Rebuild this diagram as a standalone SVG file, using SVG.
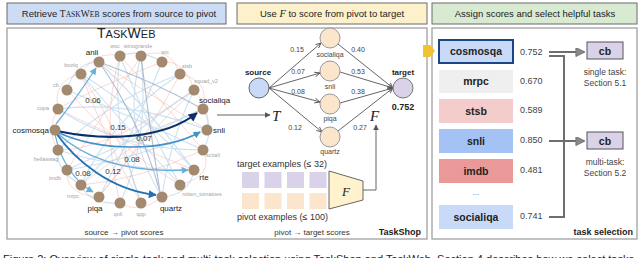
<svg xmlns="http://www.w3.org/2000/svg" width="640" height="258" viewBox="0 0 640 258">
<style>
text{font-family:"Liberation Sans",Arial,sans-serif}
.hdr{stroke:#6b6b6b;stroke-width:1}
.htxt{font-size:9.5px;fill:#222;text-anchor:middle}
.panel{fill:#fff;stroke:#a0a0a0;stroke-width:1.3}
.wn{fill:#a38a6f}
.wl{font-size:8px;fill:#222}
.ws{font-size:5.5px;fill:#a3a3a3;text-anchor:middle}
.fb{fill:none;stroke:#9cc5e4;stroke-width:1.1;opacity:.5}
.fr{fill:none;stroke:#f2aaa4;stroke-width:1;opacity:.45}
.fg{fill:none;stroke:#8198b3;stroke-width:1.2;opacity:.6}
.el{font-size:8px;fill:#333;text-anchor:middle}
.se{fill:none;stroke:#555;stroke-width:.9}
.sl{font-size:7px;fill:#444;text-anchor:middle}
.pv{fill:#fce5cd;stroke:#999;stroke-width:1}
.cap{font-size:8px;fill:#333}
.tb{font-size:10.5px;font-weight:bold;fill:#222;text-anchor:middle}
.sc{font-size:9px;fill:#444}
.ra{fill:none;stroke:#6e6e6e;stroke-width:2}
.it{font-family:"Liberation Serif","Times New Roman",serif;font-style:italic}
</style>
<defs>
<marker id="mNavy" viewBox="0 0 10 10" refX="9" refY="5" markerUnits="userSpaceOnUse" markerWidth="10" markerHeight="9" orient="auto"><path d="M0,0L10,5L0,10z" fill="#08306b"/></marker>
<marker id="mB2" viewBox="0 0 10 10" refX="9" refY="5" markerUnits="userSpaceOnUse" markerWidth="9" markerHeight="8" orient="auto"><path d="M0,0L10,5L0,10z" fill="#2171b5"/></marker>
<marker id="mB3" viewBox="0 0 10 10" refX="9" refY="5" markerUnits="userSpaceOnUse" markerWidth="8" markerHeight="7" orient="auto"><path d="M0,0L10,5L0,10z" fill="#4292c6"/></marker>
<marker id="mB4" viewBox="0 0 10 10" refX="9" refY="5" markerUnits="userSpaceOnUse" markerWidth="8" markerHeight="7" orient="auto"><path d="M0,0L10,5L0,10z" fill="#6baed6"/></marker>
<marker id="mG" viewBox="0 0 10 10" refX="9" refY="5" markerUnits="userSpaceOnUse" markerWidth="6" markerHeight="6" orient="auto"><path d="M0,1L9,5L0,9" fill="none" stroke="#555" stroke-width="1.5"/></marker>
<marker id="mGF" viewBox="0 0 10 10" refX="9" refY="5" markerUnits="userSpaceOnUse" markerWidth="6" markerHeight="6" orient="auto"><path d="M0,0L10,5L0,10z" fill="#555"/></marker>
<marker id="mR" viewBox="0 0 10 10" refX="9" refY="5" markerUnits="userSpaceOnUse" markerWidth="11" markerHeight="9" orient="auto"><path d="M0,0L10,5L0,10z" fill="#8a8a8a" stroke="#6e6e6e" stroke-width="1"/></marker>
</defs>
<rect width="640" height="258" fill="#fff"/>

<!-- headers -->
<g id="header-retrieve">
<rect class="hdr" x="7" y="3" width="219" height="21" fill="#cddcf5"/>
<text class="htxt" x="119" y="17">Retrieve <tspan font-family="Liberation Serif,serif">T<tspan font-size="7.6px">ASK</tspan>W<tspan font-size="7.6px">EB</tspan></tspan> scores from source to pivot</text>
</g>
<g id="header-use">
<rect class="hdr" x="237" y="3" width="190" height="21" fill="#fdf1cc"/>
<text class="htxt" x="332" y="17">Use <tspan class="it" font-size="10.5px">F</tspan> to score from pivot to target</text>
</g>
<g id="header-assign">
<rect class="hdr" x="432" y="3" width="205" height="21" fill="#d9ead3"/>
<text class="htxt" x="535" y="17">Assign scores and select helpful tasks</text>
</g>

<!-- panels -->
<rect class="panel" x="7" y="28" width="420" height="211"/>
<rect class="panel" x="432" y="28" width="205" height="211"/>

<!-- TaskWeb -->
<g id="taskweb">
<text x="97" y="38" font-family="Liberation Serif,serif" font-size="14px" fill="#222">T<tspan font-size="11px">ASK</tspan>W<tspan font-size="11px">EB</tspan></text>
<g id="taskweb-faint-edges">
<path class="fr" d="M58,109Q52,80 81,74M81,74Q95,50 120,56M141,56Q170,45 180,74M180,74Q210,80 203,109M203,150Q215,175 180,185M162,197Q140,215 120,203M99,197Q65,195 67,170M58,150Q45,130 58,109M194,90Q212,110 207,130M162,62Q185,60 194,90"/>
<path class="fb" d="M67,90Q75,62 99,62M120,56Q140,48 162,62M203,109Q215,130 203,150M194,170Q190,195 162,197M81,185Q90,205 120,203M58,150Q55,170 81,185"/>
<path class="fr" d="M99,62Q160,100 207,130M120,56Q170,110 203,150M141,56Q100,120 67,170M180,74Q140,150 99,197M194,90Q110,150 58,150M81,74Q110,150 141,203M67,90Q120,150 180,185M58,109Q120,140 194,170M81,185Q150,130 203,109M99,197Q140,140 194,90M120,203Q100,120 120,56M141,203Q120,130 81,74M162,62Q90,90 58,109M203,150Q140,180 81,185"/>
<path class="fb" d="M141,56Q120,130 162,197M162,62Q130,140 99,197M180,74Q110,100 58,150M194,90Q120,140 81,185M81,74Q140,110 194,170M120,56Q150,130 180,185M58,109Q130,100 207,130M67,90Q140,120 203,150M67,170Q130,140 203,109M141,203Q110,120 120,56M180,185Q120,120 81,74M203,150Q120,150 58,109M194,170Q150,110 99,62M162,197Q170,140 194,90M207,130Q130,160 67,170M120,203Q150,140 141,56M81,185Q110,120 180,74M58,150Q120,170 194,170"/>
<path class="fg" d="M99,62Q140,120 160,192M99,62Q150,80 199,107M141,56Q150,130 160,192"/>
</g>
<g id="taskweb-edges">
<path d="M56,124Q78,96 96,68" fill="none" stroke="#6baed6" stroke-width="1.3" marker-end="url(#mB4)"/>
<path d="M57,131C110,142 165,138 197,113" fill="none" stroke="#08306b" stroke-width="2.2" marker-end="url(#mNavy)"/>
<path d="M57,132C100,152 165,152 200,132" fill="none" stroke="#4292c6" stroke-width="1.5" marker-end="url(#mB3)"/>
<path d="M57,133C95,168 150,172 188,170" fill="none" stroke="#6baed6" stroke-width="1.4" marker-end="url(#mB4)"/>
<path d="M56,133C75,160 110,190 156,195" fill="none" stroke="#2171b5" stroke-width="1.9" marker-end="url(#mB2)"/>
<path d="M55,134C60,160 75,182 93,192" fill="none" stroke="#6baed6" stroke-width="1.3" marker-end="url(#mB4)"/>
</g>
<g id="taskweb-nodes">
<circle class="wn" cx="141" cy="56" r="5.5"/><circle class="wn" cx="162" cy="62" r="5.5"/><circle class="wn" cx="180" cy="74" r="5.5"/><circle class="wn" cx="194" cy="90" r="5.5"/><circle class="wn" cx="203" cy="109" r="5.5"/><circle class="wn" cx="207" cy="130" r="5.5"/><circle class="wn" cx="203" cy="150" r="5.5"/><circle class="wn" cx="194" cy="170" r="5.5"/><circle class="wn" cx="180" cy="185" r="5.5"/><circle class="wn" cx="162" cy="197" r="5.5"/><circle class="wn" cx="141" cy="203" r="5.5"/><circle class="wn" cx="120" cy="203" r="5.5"/><circle class="wn" cx="99" cy="197" r="5.5"/><circle class="wn" cx="81" cy="185" r="5.5"/><circle class="wn" cx="67" cy="170" r="5.5"/><circle class="wn" cx="58" cy="150" r="5.5"/><circle class="wn" cx="55" cy="130" r="5.5"/><circle class="wn" cx="58" cy="109" r="5.5"/><circle class="wn" cx="67" cy="90" r="5.5"/><circle class="wn" cx="81" cy="74" r="5.5"/><circle class="wn" cx="99" cy="62" r="5.5"/><circle class="wn" cx="120" cy="56" r="5.5"/>
</g>
<g id="taskweb-labels">
<text class="ws" x="138" y="48">winogrande</text>
<text class="ws" x="115" y="48">wsc</text>
<text class="ws" x="165" y="54">wic</text>
<text class="ws" x="187" y="68">stsb</text>
<text class="ws" x="206" y="83">squad_v2</text>
<text class="wl" x="199" y="103">socialiqa</text>
<text class="wl" x="213" y="133">snli</text>
<text class="ws" x="213" y="157">scitail</text>
<text class="wl" x="204" y="180" text-anchor="middle">rte</text>
<text class="ws" x="202" y="196">rotten_tomatoes</text>
<text class="wl" x="171" y="211" text-anchor="middle">quartz</text>
<text class="ws" x="141" y="216">qqp</text>
<text class="ws" x="118" y="216">qnli</text>
<text class="wl" x="95" y="211" text-anchor="middle">piqa</text>
<text class="ws" x="73" y="198">mrpc</text>
<text class="ws" x="55" y="180">imdb</text>
<text class="ws" x="46" y="161">hellaswag</text>
<text class="wl" x="49" y="133" text-anchor="end">cosmosqa</text>
<text class="ws" x="43" y="110">copa</text>
<text class="ws" x="56" y="87" fill="#d5d5d5">cb</text>
<text class="ws" x="71" y="67">boolq</text>
<text class="wl" x="92" y="55" text-anchor="middle">anli</text>
<text class="el" x="93" y="103">0.06</text>
<text class="el" x="118" y="130">0.15</text>
<text class="el" x="144" y="141">0.07</text>
<text class="el" x="132" y="162">0.08</text>
<text class="el" x="113" y="174">0.12</text>
<text class="el" x="83" y="176">0.08</text>
</g>
<text class="cap" x="124" y="235" text-anchor="middle">source → pivot scores</text>
</g>

<!-- TaskShop -->
<g id="taskshop-connectors">
<line class="se" x1="217" y1="115" x2="270" y2="115" marker-end="url(#mGF)"/>
<path class="se" d="M269,88L321,43" marker-end="url(#mG)"/>
<path class="se" d="M269,88L320,73" marker-end="url(#mG)"/>
<path class="se" d="M269,88L320,102" marker-end="url(#mG)"/>
<path class="se" d="M269,88L322,132" marker-end="url(#mG)"/>
<path class="se" d="M338,44L393,88" marker-end="url(#mG)"/>
<path class="se" d="M340,72L393,88" marker-end="url(#mG)"/>
<path class="se" d="M340,103L393,88" marker-end="url(#mG)"/>
<path class="se" d="M338,131L393,88" marker-end="url(#mG)"/>
<path class="se" d="M363,190L376,190L376,125" marker-end="url(#mGF)"/>
</g>
<text class="it" x="272" y="121" font-size="15px" fill="#222">T</text>
<text class="it" x="370" y="121" font-size="15px" fill="#222">F</text>
<g id="node-source">
<text x="258" y="75" font-size="8px" font-weight="bold" fill="#222" text-anchor="middle">source</text>
<circle cx="259" cy="88" r="10" fill="#c9daf8" stroke="#666" stroke-width="1"/>
</g>
<g id="node-pivot-socialiqa"><circle class="pv" cx="330" cy="38" r="10"/><text class="sl" x="330" y="57">socialiqa</text></g>
<g id="node-pivot-snli"><circle class="pv" cx="330" cy="71" r="10"/><text class="sl" x="330" y="89">snli</text></g>
<g id="node-pivot-piqa"><circle class="pv" cx="330" cy="104" r="10"/><text class="sl" x="330" y="121">piqa</text></g>
<g id="node-pivot-quartz"><circle class="pv" cx="330" cy="137" r="10"/><text class="sl" x="330" y="154">quartz</text></g>
<g id="node-target">
<text x="403" y="75" font-size="8px" font-weight="bold" fill="#222" text-anchor="middle">target</text>
<circle cx="403" cy="88" r="10" fill="#d9d2e9" stroke="#777" stroke-width="1"/>
<text x="403" y="110" font-size="9px" font-weight="bold" fill="#222" text-anchor="middle">0.752</text>
</g>
<g id="taskshop-edge-labels">
<text class="sl" x="297" y="52">0.15</text>
<text class="sl" x="298" y="74">0.07</text>
<text class="sl" x="298" y="94">0.08</text>
<text class="sl" x="295" y="130">0.12</text>
<text class="sl" x="358" y="52">0.40</text>
<text class="sl" x="358" y="74">0.53</text>
<text class="sl" x="358" y="94">0.38</text>
<text class="sl" x="360" y="130">0.27</text>
</g>
<g id="examples">
<text x="237" y="167" font-size="9px" fill="#333">target examples (≤ 32)</text>
<rect x="242" y="172" width="17" height="16" fill="#d9d2e9"/>
<rect x="264.5" y="172" width="17" height="16" fill="#d9d2e9"/>
<rect x="287" y="172" width="17" height="16" fill="#d9d2e9"/>
<rect x="309.5" y="172" width="17" height="16" fill="#d9d2e9"/>
<rect x="242" y="193" width="17" height="16" fill="#fce5cd"/>
<rect x="264.5" y="193" width="17" height="16" fill="#fce5cd"/>
<rect x="287" y="193" width="17" height="16" fill="#fce5cd"/>
<rect x="309.5" y="193" width="17" height="16" fill="#fce5cd"/>
<text x="237" y="220" font-size="9px" fill="#333">pivot examples (≤ 100)</text>
</g>
<g id="model-F">
<path d="M329,171L363,181L363,200L329,209Z" fill="#fff2cc" stroke="#666" stroke-width="1"/>
<text class="it" x="346" y="196" font-size="13px" fill="#222" text-anchor="middle">F</text>
</g>
<text class="cap" x="312" y="235" text-anchor="middle">pivot → target scores</text>
<text x="421" y="235" font-size="9px" font-weight="bold" fill="#222" text-anchor="end">TaskShop</text>

<!-- task selection -->
<path d="M423,45L430,45L435,51L430,57L423,57Z" fill="#f1c232"/>
<g id="task-cosmosqa"><rect x="439" y="40" width="74" height="23" fill="#c9daf8" stroke="#1c4587" stroke-width="2"/><text class="tb" x="476" y="55">cosmosqa</text><text class="sc" x="520" y="55">0.752</text></g>
<g id="task-mrpc"><rect x="439" y="70" width="74" height="23" fill="#efefef"/><text class="tb" x="476" y="85">mrpc</text><text class="sc" x="520" y="84">0.670</text></g>
<g id="task-stsb"><rect x="439" y="99" width="74" height="24" fill="#f4cccc"/><text class="tb" x="476" y="115">stsb</text><text class="sc" x="520" y="113">0.589</text></g>
<g id="task-snli"><rect x="439" y="129" width="74" height="24" fill="#a4c2f4"/><text class="tb" x="476" y="145">snli</text><text class="sc" x="520" y="143">0.850</text></g>
<g id="task-imdb"><rect x="439" y="159" width="74" height="24" fill="#ea9999"/><text class="tb" x="476" y="175">imdb</text><text class="sc" x="520" y="173">0.481</text></g>
<text x="476" y="195" font-size="8px" fill="#666" text-anchor="middle">...</text>
<g id="task-socialiqa"><rect x="439" y="205" width="74" height="24" fill="#c9daf8"/><text class="tb" x="476" y="221">socialiqa</text><text class="sc" x="520" y="219">0.741</text></g>
<g id="selection-connectors">
<line class="ra" x1="549" y1="52" x2="584" y2="52" marker-end="url(#mR)"/>
<path class="ra" d="M549,56L564,56L564,217L549,217"/>
<line class="ra" x1="549" y1="141" x2="584" y2="141" marker-end="url(#mR)"/>
</g>
<g id="result-single"><rect x="587" y="42" width="36" height="17" fill="#d9d2e9" stroke="#555" stroke-width="1"/><text x="605" y="55" font-size="10.5px" font-weight="bold" fill="#222" text-anchor="middle">cb</text>
<text x="605" y="75" font-size="8.5px" fill="#444" text-anchor="middle">single task:</text><text x="605" y="86" font-size="8.5px" fill="#444" text-anchor="middle">Section 5.1</text></g>
<g id="result-multi"><rect x="587" y="132" width="36" height="17" fill="#d9d2e9" stroke="#555" stroke-width="1"/><text x="605" y="145" font-size="10.5px" font-weight="bold" fill="#222" text-anchor="middle">cb</text>
<text x="605" y="165" font-size="8.5px" fill="#444" text-anchor="middle">multi-task:</text><text x="605" y="176" font-size="8.5px" fill="#444" text-anchor="middle">Section 5.2</text></g>
<text x="633" y="235" font-size="9px" font-weight="bold" fill="#222" text-anchor="end">task selection</text>

<text x="3" y="262.5" font-family="Liberation Serif,serif" font-size="11px" fill="#222">Figure 2: Overview of single-task and multi-task selection using TaskShop and TaskWeb. Section 4 describes how we select tasks.</text>
</svg>
